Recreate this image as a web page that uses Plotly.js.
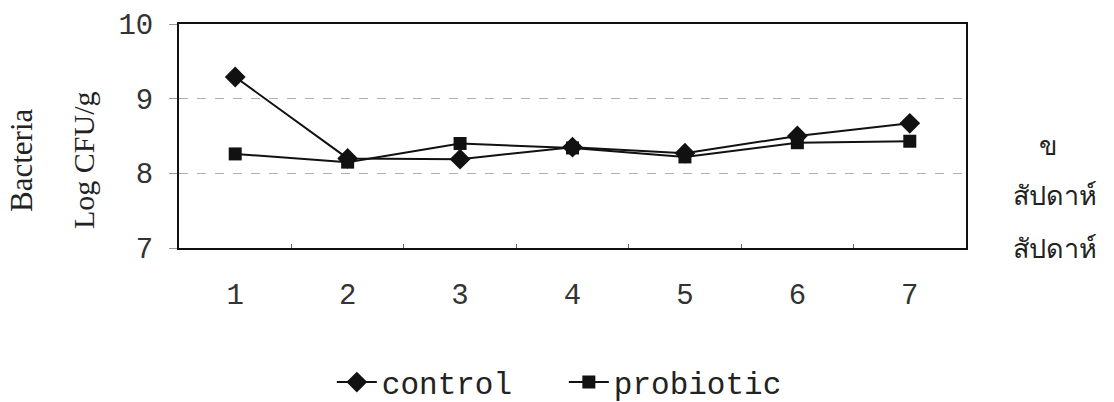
<!DOCTYPE html>
<html>
<head>
<meta charset="utf-8">
<script src="https://cdn.plot.ly/plotly-3.0.1.min.js"></script>
<style>
  html, body { margin: 0; padding: 0; background: #ffffff; }
  #chart { width: 1114px; height: 402px; }
</style>
</head>
<body>
<div id="chart"></div>
<script>
// Weekly bacteria counts (log CFU/g)
const weeks = ['1', '2', '3', '4', '5', '6', '7'];
const controlValues = [9.29, 8.20, 8.19, 8.35, 8.27, 8.50, 8.67];
const probioticValues = [8.26, 8.15, 8.40, 8.34, 8.22, 8.41, 8.43];
const yTicks = [7, 8, 9, 10];

const mono = 'Liberation Mono, Courier New, monospace';
const serif = 'Liberation Serif, Times New Roman, serif';
const thai = 'Noto Sans, sans-serif';

const traces = [
  {
    x: weeks, y: controlValues, name: 'control', type: 'scatter', mode: 'lines+markers',
    line: { color: '#111111', width: 2 },
    marker: { symbol: 'diamond', size: 16, color: '#111111' }
  },
  {
    x: weeks, y: probioticValues, name: 'probiotic', type: 'scatter', mode: 'lines+markers',
    line: { color: '#111111', width: 2 },
    marker: { symbol: 'square', size: 13, color: '#111111' }
  }
];

const layout = {
  width: 1114, height: 402,
  margin: { l: 179, r: 148, t: 24, b: 154, autoexpand: false },
  paper_bgcolor: '#ffffff', plot_bgcolor: '#ffffff',
  showlegend: true,
  legend: {
    orientation: 'h', x: 0.489, xanchor: 'center', y: -0.6, yanchor: 'middle',
    font: { family: mono, size: 31, color: '#222222' },
    bgcolor: 'rgba(0,0,0,0)', itemwidth: 40,
    entrywidth: 177, entrywidthmode: 'pixels'
  },
  xaxis: {
    type: 'category', range: [-0.5, 6.5],
    showline: true, linecolor: '#111111', linewidth: 2, mirror: true,
    ticks: 'inside', ticklen: 4, tickcolor: '#666666', tickson: 'boundaries',
    showgrid: false, zeroline: false,
    tickfont: { family: mono, size: 29, color: '#333333' },
    ticklabelstandoff: 19
  },
  yaxis: {
    range: [7, 10], tickvals: yTicks,
    showline: true, linecolor: '#111111', linewidth: 2, mirror: true,
    ticks: 'outside', ticklen: 8, tickcolor: '#999999',
    showgrid: true, gridcolor: '#b0b0b0', griddash: 'dash', gridwidth: 1,
    zeroline: false,
    tickfont: { family: mono, size: 29, color: '#333333' },
    ticklabelstandoff: 10
  },
  annotations: [
    { text: 'Bacteria', xref: 'paper', yref: 'paper', x: -0.1995, y: 0.393, textangle: -90,
      xanchor: 'center', yanchor: 'middle',
      showarrow: false, font: { family: serif, size: 31, color: '#222222' } },
    { text: 'Log CFU/g', xref: 'paper', yref: 'paper', x: -0.1207, y: 0.393, textangle: -90,
      xanchor: 'center', yanchor: 'middle',
      showarrow: false, font: { family: serif, size: 30, color: '#222222' } },
    { text: 'ข', xref: 'paper', yref: 'paper', x: 1.104, y: 0.46, xanchor: 'center', yanchor: 'middle',
      showarrow: false, font: { family: thai, size: 27, color: '#222222' } },
    { text: 'สัปดาห์', xref: 'paper', yref: 'paper', x: 1.113, y: 0.237, xanchor: 'center', yanchor: 'middle',
      showarrow: false, font: { family: thai, size: 27, color: '#222222' } },
    { text: 'สัปดาห์', xref: 'paper', yref: 'paper', x: 1.113, y: 0.004, xanchor: 'center', yanchor: 'middle',
      showarrow: false, font: { family: thai, size: 27, color: '#222222' } }
  ]
};

Plotly.newPlot('chart', traces, layout, { displayModeBar: false, staticPlot: true });
</script>
</body>
</html>
